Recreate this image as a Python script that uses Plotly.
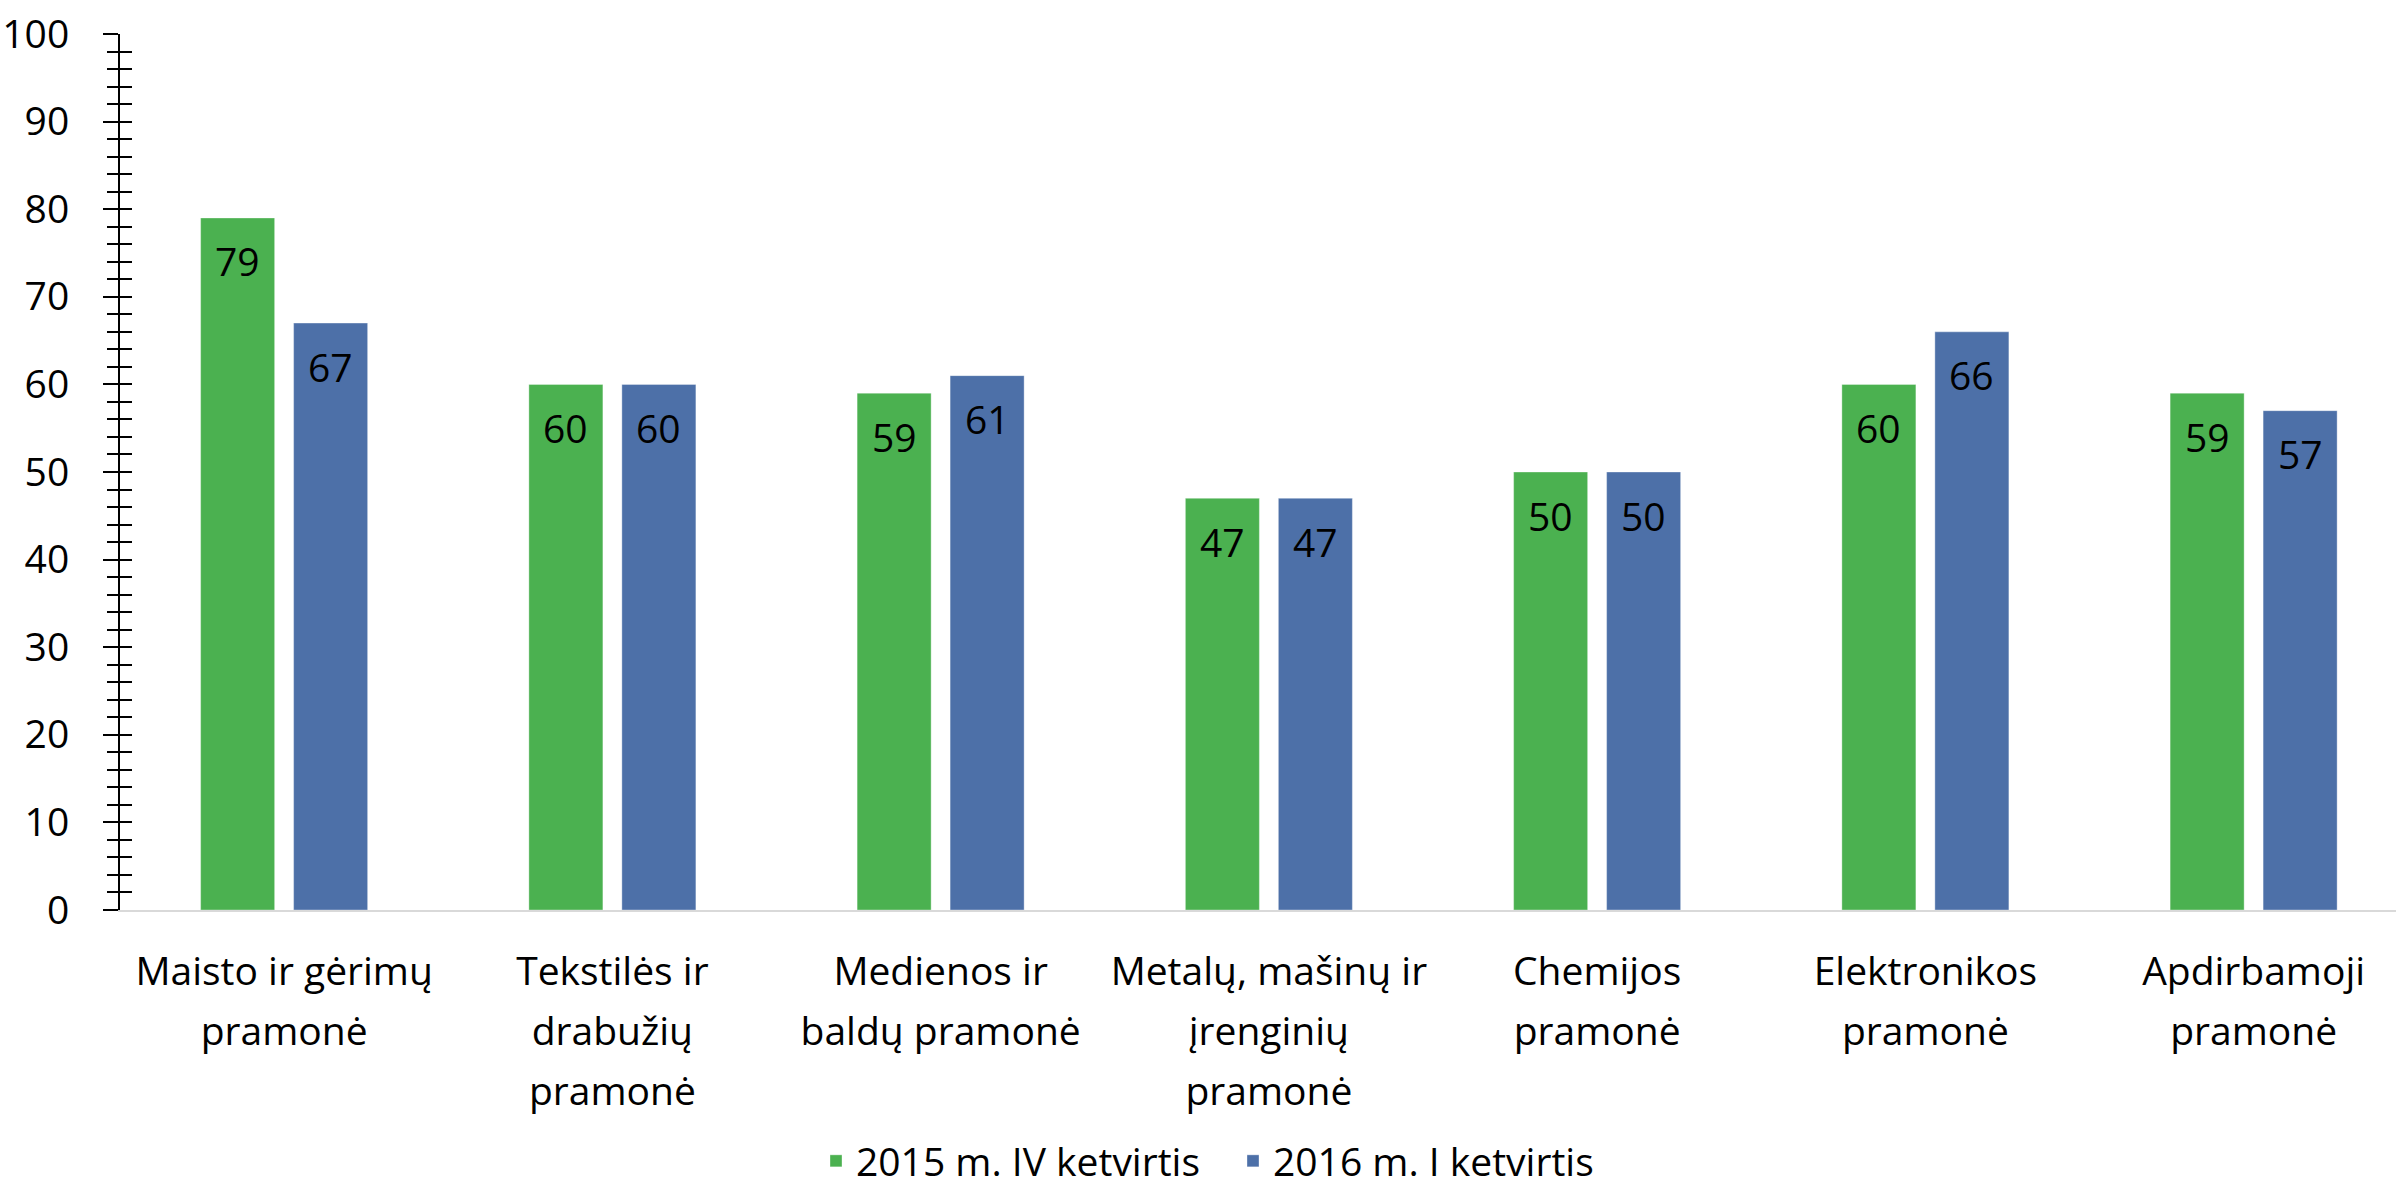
import plotly.graph_objects as go

categories = [
    "Maisto ir gėrimų<br>pramonė",
    "Tekstilės ir<br>drabužių<br>pramonė",
    "Medienos ir<br>baldų pramonė",
    "Metalų, mašinų ir<br>įrenginių<br>pramonė",
    "Chemijos<br>pramonė",
    "Elektronikos<br>pramonė",
    "Apdirbamoji<br>pramonė",
]
series_names = ["2015 m. IV ketvirtis", "2016 m. I ketvirtis"]
values_2015q4 = [79, 60, 59, 47, 50, 60, 59]
values_2016q1 = [67, 60, 61, 47, 50, 66, 57]
y_ticks = [0, 10, 20, 30, 40, 50, 60, 70, 80, 90, 100]

colors = ["#4BB150", "#4D70A8"]
FONT = "Open Sans"
FS = 39
LINE_FS = 46  # base size that sets the line spacing of the category labels

W, H = 2396, 1186
ML, MR, MT, MB = 120, 0, 34, 276
plot_w = W - ML - MR
cat_px = 328.25
x_max = -0.5 + plot_w / cat_px

# category tick texts: visible glyphs at FS, line pitch from LINE_FS
tick_text = [
    "<br>".join(f"<span style='font-size:{FS}px'>{part}</span>" for part in c.split("<br>"))
    for c in categories
]

fig = go.Figure()
for name, vals, col in zip(series_names, [values_2015q4, values_2016q1], colors):
    fig.add_trace(go.Bar(
        x=categories, y=vals, name=name,
        marker=dict(color=col, line=dict(color="rgba(255,255,255,0.35)", width=1)),
        hoverinfo="y+name",
    ))

# data labels inside the bars, near the top
shift = 46.5
for vals, xs in zip([values_2015q4, values_2016q1], [-shift, shift]):
    for c, v in zip(categories, vals):
        fig.add_annotation(
            x=c, y=v, text=str(v), showarrow=False,
            xref="x", yref="y", xshift=xs, yshift=-43,
            yanchor="middle", xanchor="center",
            font=dict(family=FONT, size=FS, color="#000000"),
        )

fig.update_layout(
    width=W, height=H,
    margin=dict(l=ML, r=MR, t=MT, b=MB, pad=0, autoexpand=False),
    paper_bgcolor="white", plot_bgcolor="white",
    barmode="group", bargap=0.4334, bargroupgap=0.204,
    font=dict(family=FONT, size=FS, color="#000000"),
    showlegend=True,
    legend=dict(
        orientation="h",
        xref="container", x=816 / W, xanchor="left",
        yref="container", y=25 / H, yanchor="middle",
        font=dict(family=FONT, size=FS, color="#000000"),
        itemclick=False, itemdoubleclick=False,
        traceorder="normal", entrywidthmode="pixels", entrywidth=372,
    ),
    xaxis=dict(
        range=[-0.5, x_max], showgrid=False, zeroline=False,
        showline=True, linecolor="#D9D9D9", linewidth=2,
        ticks="", tickvals=categories, ticktext=tick_text,
        tickfont=dict(family=FONT, size=LINE_FS, color="#000000"),
        ticklabelstandoff=18, fixedrange=True, automargin=False,
    ),
    yaxis=dict(
        range=[0, 100], tickvals=y_ticks, showgrid=False, zeroline=False,
        showline=True, linecolor="#000000", linewidth=2,
        ticks="outside", ticklen=15, tickwidth=2, tickcolor="#000000",
        minor=dict(dtick=2, ticks="outside", ticklen=11, tickwidth=2, tickcolor="#000000", showgrid=False),
        tickfont=dict(family=FONT, size=FS, color="#000000"),
        ticklabelstandoff=26, fixedrange=True, automargin=False,
    ),
    yaxis2=dict(
        range=[0, 100], overlaying="y", side="left", anchor="x",
        dtick=2, tick0=0, ticks="inside", ticklen=12, tickwidth=2, tickcolor="#000000",
        showticklabels=False, showline=False, showgrid=False, zeroline=False,
        fixedrange=True, automargin=False,
    ),
)

# invisible helper so that yaxis2 is rendered
fig.add_trace(go.Scatter(x=[categories[0]], y=[0], yaxis="y2", mode="markers",
                         marker=dict(opacity=0), showlegend=False, hoverinfo="skip"))

fig.write_html(
    "out.html",
    config={"displayModeBar": False},
    post_script="document.body.style.margin='0';document.body.style.overflow='hidden';",
)
